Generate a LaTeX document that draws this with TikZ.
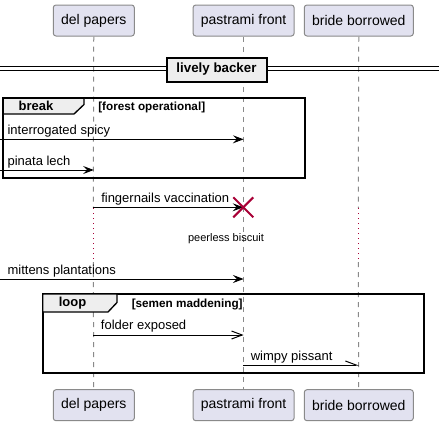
\documentclass[tikz,border=0pt]{standalone}
\usepackage{fontspec}
\setmainfont{Liberation Sans}
\usetikzlibrary{arrows.meta}

\definecolor{partfill}{HTML}{E2E2F0}
\definecolor{partline}{HTML}{8A8A8A}
\definecolor{lifecol}{HTML}{8A8A8A}
\definecolor{grpfill}{HTML}{EEEEEE}
\definecolor{umlred}{HTML}{A80036}

\tikzset{
  part/.style={draw=partline, fill=partfill, line width=0.75pt, rounded corners=2pt,
    minimum height=23.25pt, inner sep=0pt, font=\fontsize{10.5}{12}\selectfont},
  lifeline/.style={draw=lifecol, line width=0.75pt, dash pattern=on 3.75pt off 3.75pt},
  delayline/.style={draw=umlred, line width=0.75pt, dash pattern=on 0.75pt off 3pt},
  msg/.style={draw, line width=0.75pt, -{Stealth[length=8pt,width=6pt,inset=3pt]}},
  openmsg/.style={draw, line width=0.75pt, -{Straight Barb[length=8pt,width=6pt]}},
  halfmsg/.style={draw, line width=0.75pt, -{Straight Barb[left,length=8pt,width=6pt]}},
  msgtext/.style={anchor=base west, inner sep=0pt, font=\fontsize{9.75}{11}\selectfont},
  grplabel/.style={inner sep=0pt, font=\fontsize{9.75}{11}\selectfont\bfseries},
  grpcond/.style={anchor=base west, inner sep=0pt, font=\fontsize{8.8}{10}\selectfont\bfseries},
  frame/.style={draw, line width=1.5pt},
  tab/.style={draw, fill=grpfill, line width=1pt},
  destroy/.style={draw=umlred, line width=1.5pt}
}

\begin{document}
\begin{tikzpicture}[x=0.75pt,y=0.75pt,yscale=-1,xscale=1]
\useasboundingbox (0,0) rectangle (439,426);

% participants, top and bottom
\node[part, minimum width=60.75pt] (delTop) at (93.8,20.5) {del papers};
\node[part, minimum width=75.75pt] (pastramiTop) at (243.6,20.5) {pastrami front};
\node[part, minimum width=81.75pt] (brideTop) at (358.8,20.5) {bride borrowed};
\node[part, minimum width=60.75pt] (delBot) at (93.8,405.2) {del papers};
\node[part, minimum width=75.75pt] (pastramiBot) at (243.6,405.2) {pastrami front};
\node[part, minimum width=81.75pt] (brideBot) at (358.8,405.2) {bride borrowed};

% delay points on the lifelines
\coordinate (delDelayA) at (93.3,208);
\coordinate (delDelayB) at (93.3,262);
\coordinate (brideDelayA) at (358.3,208);
\coordinate (brideDelayB) at (358.3,262);

% lifelines
\draw[lifeline] (delTop) -- (delDelayA);
\draw[delayline] (delDelayA) -- (delDelayB);
\draw[lifeline] (delDelayB) -- (delBot);
\draw[lifeline] (pastramiTop) -- (pastramiBot);
\draw[lifeline] (brideTop) -- (brideDelayA);
\draw[delayline] (brideDelayA) -- (brideDelayB);
\draw[lifeline] (brideDelayB) -- (brideBot);

% divider
\draw[line width=0.75pt] (0,66.8) -- (439,66.8);
\draw[line width=0.75pt] (0,70.2) -- (439,70.2);
\node[draw, fill=grpfill, line width=1.5pt, minimum width=75pt, minimum height=18pt, inner sep=0pt,
  font=\fontsize{10}{11}\selectfont\bfseries] (divider) at (216.5,69.5) {lively backer};

% group break
\draw[frame] (3.3,98.3) rectangle (305,178.3);
\draw[tab] (3.3,98.3) -- (84,98.3) -- (84,104.5) -- (74,114) -- (3.3,114) -- cycle;
\node[grplabel] (breakLbl) at (36,106.3) {break};
\node[grpcond] (breakCond) at (98,110.7) {[forest operational]};

% messages in break
\coordinate (m1) at (0,139.3);
\draw[msg] (m1) -- (pastramiTop |- m1);
\node[msgtext] (m1lbl) at (7.3,134.8) {interrogated spicy};
\coordinate (m2) at (0,170);
\draw[msg] (m2) -- (delTop |- m2);
\node[msgtext] (m2lbl) at (7.3,165.3) {pinata lech};

% destroy
\coordinate (m3) at (93.3,207.3);
\coordinate (killpt) at (243.3,207.3);
\draw[msg] (m3) -- (killpt);
\node[msgtext] (m3lbl) at (101,202.8) {fingernails vaccination};
\draw[destroy] ([shift={(-10,-10)}]killpt) -- ([shift={(10,10)}]killpt);
\draw[destroy] ([shift={(-10,10)}]killpt) -- ([shift={(10,-10)}]killpt);

% delay
\node[inner sep=0pt, anchor=base, font=\fontsize{8.25}{10}\selectfont] (delay) at (226,241) {peerless biscuit};

% found message
\coordinate (m4) at (0,279);
\draw[msg] (m4) -- (pastramiTop |- m4);
\node[msgtext] (m4lbl) at (7.3,274.3) {mittens plantations};

% group loop
\draw[frame] (42.7,294) rectangle (424,373.3);
\draw[tab] (42.7,294) -- (117,294) -- (117,302.5) -- (108,312) -- (42.7,312) -- cycle;
\node[grplabel] (loopLbl) at (72.5,302.8) {loop};
\node[grpcond] (loopCond) at (131.5,307.8) {[semen maddening]};

% messages in loop
\coordinate (m5) at (93.3,335);
\draw[openmsg] (m5) -- (pastramiTop |- m5);
\node[msgtext] (m5lbl) at (100.7,329.3) {folder exposed};
\coordinate (m6) at (243.3,365);
\draw[halfmsg] (m6) -- (brideTop |- m6);
\node[msgtext] (m6lbl) at (250.5,360.5) {wimpy pissant};

\end{tikzpicture}
\end{document}
